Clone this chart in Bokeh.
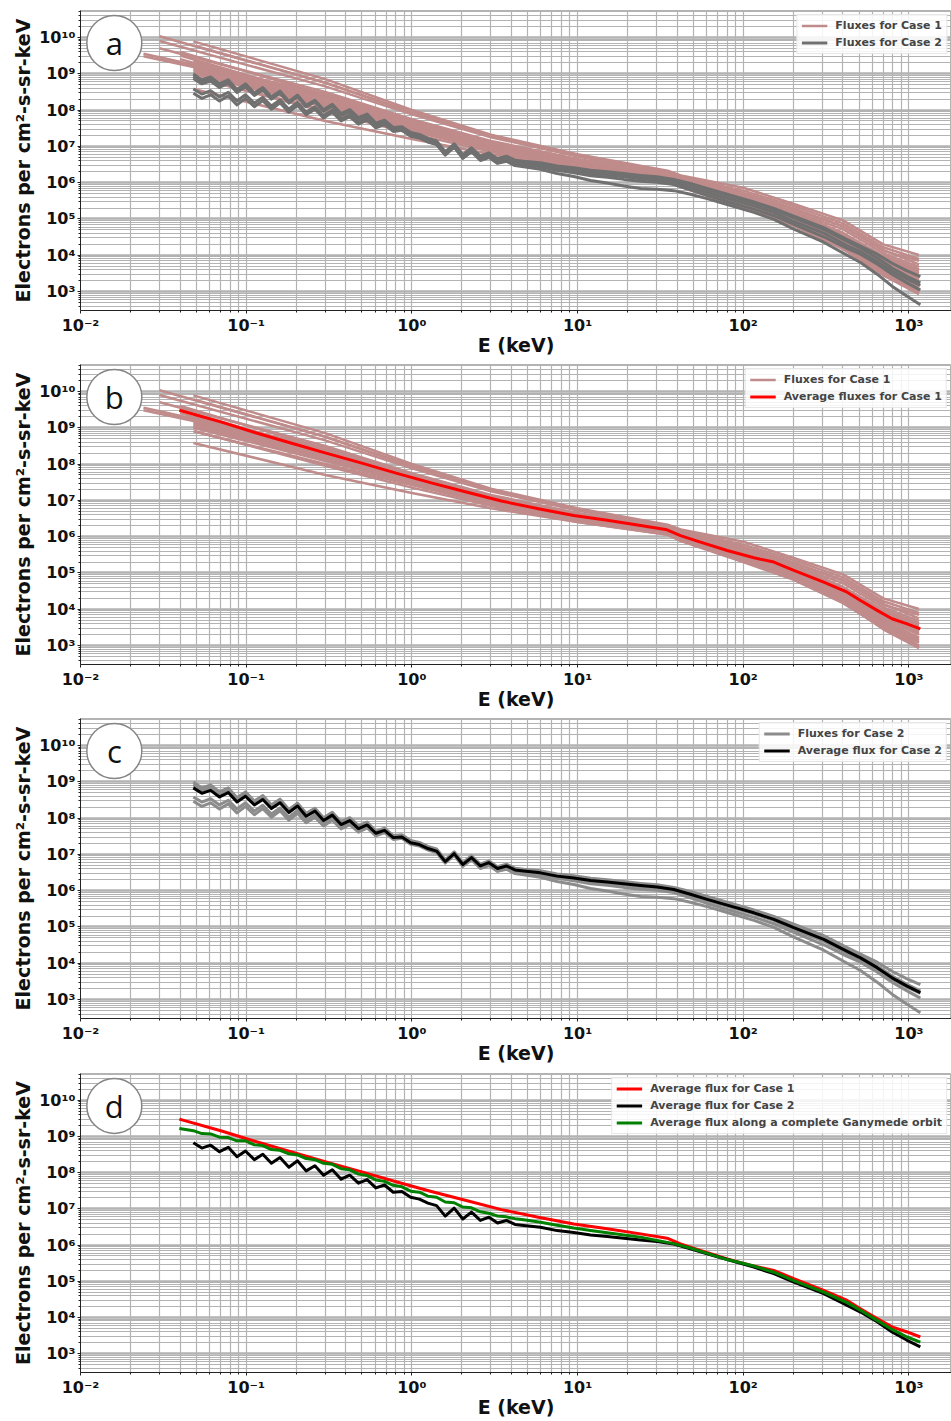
import numpy as np
from bokeh.plotting import figure
from bokeh.models import (Range1d, FixedTicker, CustomJSTickFormatter, Legend,
                          LegendItem, ColumnDataSource)
from bokeh.layouts import column
from bokeh.core.properties import value
from bokeh.embed import file_html
from bokeh.resources import INLINE

# ---------------------------------------------------------------- data (keV, log10 of flux)
# Case 2 energy channels (keV)
case2_energy = [0.048, 0.054, 0.061, 0.069, 0.078, 0.088, 0.099, 0.112, 0.126, 0.142,
                0.160, 0.181, 0.204, 0.230, 0.260, 0.293, 0.331, 0.374, 0.422, 0.476,
                0.537, 0.606, 0.684, 0.772, 0.871, 0.983, 1.11, 1.25, 1.41, 1.59,
                1.80, 2.03, 2.29, 2.59, 2.92, 3.29, 3.72, 4.19, 4.73, 5.97,
                7.53, 9.49, 12.0, 15.1, 19.0, 24.0, 30.2, 38.1, 48.0, 60.5,
                80.0, 116, 153, 202, 306, 424, 510, 643, 791, 975,
                1172]

case2_avg_log = [8.83, 8.68, 8.76, 8.58, 8.70, 8.44, 8.60, 8.36, 8.51, 8.26,
                 8.42, 8.15, 8.33, 8.05, 8.19, 7.93, 8.08, 7.82, 7.93, 7.71,
                 7.81, 7.58, 7.66, 7.46, 7.48, 7.32, 7.27, 7.16, 7.09, 6.80,
                 7.02, 6.72, 6.91, 6.68, 6.77, 6.61, 6.68, 6.57, 6.54, 6.49,
                 6.40, 6.35, 6.28, 6.24, 6.19, 6.14, 6.10, 6.03, 5.90, 5.76,
                 5.60, 5.39, 5.21, 4.98, 4.66, 4.33, 4.15, 3.88, 3.60, 3.37,
                 3.19]

case2_line_a = [8.93, 8.78, 8.86, 8.68, 8.80, 8.54, 8.70, 8.46, 8.61, 8.36,
                8.52, 8.23, 8.41, 8.13, 8.27, 8.01, 8.16, 7.90, 8.01, 7.79,
                7.89, 7.64, 7.72, 7.52, 7.54, 7.38, 7.33, 7.22, 7.15, 6.85,
                7.07, 6.77, 6.96, 6.73, 6.82, 6.66, 6.73, 6.62, 6.59, 6.55,
                6.46, 6.41, 6.34, 6.30, 6.25, 6.20, 6.16, 6.09, 5.98, 5.84,
                5.68, 5.47, 5.29, 5.08, 4.76, 4.43, 4.25, 4.03, 3.78, 3.57,
                3.41]
case2_line_b = [8.87, 8.72, 8.80, 8.62, 8.74, 8.48, 8.64, 8.40, 8.55, 8.30,
                8.46, 8.19, 8.37, 8.09, 8.23, 7.97, 8.12, 7.86, 7.97, 7.75,
                7.85, 7.60, 7.68, 7.48, 7.50, 7.34, 7.29, 7.18, 7.11, 6.82,
                7.04, 6.74, 6.93, 6.70, 6.79, 6.63, 6.70, 6.59, 6.56, 6.51,
                6.42, 6.37, 6.30, 6.26, 6.21, 6.16, 6.12, 6.05, 5.95, 5.81,
                5.65, 5.44, 5.26, 5.03, 4.71, 4.38, 4.20, 3.93, 3.65, 3.42,
                3.24]
case2_line_c = [8.58, 8.44, 8.53, 8.36, 8.49, 8.25, 8.42, 8.19, 8.35, 8.11,
                8.28, 8.02, 8.21, 7.94, 8.09, 7.84, 8.00, 7.75, 7.87, 7.65,
                7.76, 7.55, 7.63, 7.43, 7.45, 7.29, 7.24, 7.13, 7.06, 6.77,
                6.99, 6.68, 6.87, 6.64, 6.73, 6.57, 6.64, 6.53, 6.50, 6.44,
                6.34, 6.27, 6.19, 6.15, 6.09, 6.04, 6.01, 5.95, 5.80, 5.65,
                5.48, 5.27, 5.09, 4.85, 4.51, 4.19, 4.03, 3.76, 3.48, 3.24,
                3.04]
case2_line_d = [8.46, 8.32, 8.42, 8.25, 8.39, 8.14, 8.32, 8.09, 8.26, 8.02,
                8.20, 7.94, 8.13, 7.87, 8.02, 7.78, 7.94, 7.70, 7.82, 7.61,
                7.73, 7.51, 7.60, 7.41, 7.44, 7.28, 7.23, 7.12, 7.05, 6.76,
                6.98, 6.67, 6.85, 6.61, 6.69, 6.53, 6.59, 6.47, 6.44, 6.37,
                6.25, 6.17, 6.06, 5.99, 5.91, 5.84, 5.82, 5.78, 5.68, 5.56,
                5.40, 5.18, 4.99, 4.72, 4.36, 4.00, 3.80, 3.48, 3.15, 2.87,
                2.64]
case2_line_e = [8.99, 8.83, 8.91, 8.72, 8.83, 8.56, 8.72, 8.47, 8.61, 8.35,
                8.51, 8.23, 8.40, 8.11, 8.25, 7.98, 8.12, 7.86, 7.96, 7.74,
                7.84, 7.56, 7.64, 7.44, 7.46, 7.30, 7.25, 7.14, 7.07, 6.78,
                7.00, 6.70, 6.89, 6.66, 6.75, 6.59, 6.66, 6.55, 6.52, 6.46,
                6.37, 6.32, 6.25, 6.21, 6.16, 6.11, 6.07, 6.00, 5.87, 5.73,
                5.57, 5.36, 5.18, 4.93, 4.61, 4.27, 4.10, 3.83, 3.56, 3.34,
                3.17]
case2_lines = [case2_line_a, case2_line_b, case2_line_c, case2_line_d, case2_line_e]

# Case 1 average
case1_avg_energy = [0.0395, 0.0702, 0.114, 0.186, 0.303, 0.493, 0.803, 1.31, 2.13, 3.47,
                    5.8, 9.49, 15.1, 24.0, 34.7, 41.8, 55.2, 80.0, 116, 153,
                    202, 306, 424, 510, 643, 791, 975, 1172]
case1_avg_log = [9.48, 9.16, 8.86, 8.58, 8.30, 8.03, 7.75, 7.48, 7.23, 6.98,
                 6.77, 6.58, 6.45, 6.31, 6.19, 6.03, 5.85, 5.62, 5.42, 5.30,
                 5.07, 4.75, 4.47, 4.24, 3.97, 3.74, 3.60, 3.46]

# Case 1 individual spectra: start energy + common tail energies
case1_start_energy = [0.030, 0.030, 0.048, 0.048, 0.024, 0.024, 0.030, 0.040, 0.040, 0.048,
                      0.048, 0.048, 0.048, 0.048, 0.048, 0.048, 0.048, 0.048, 0.049, 0.040,
                      0.030]
case1_tail_energy = [0.3, 1.0, 3.0, 10, 35, 42, 100, 200, 400, 700, 1150]
case1_lines_log = [
    [10.03, 8.75, 7.95, 7.30, 6.75, 6.30, 6.15, 5.72, 5.30, 4.80, 4.15, 3.75],
    [9.90, 8.65, 7.88, 7.25, 6.72, 6.28, 6.12, 5.62, 5.18, 4.62, 3.98, 3.62],
    [9.89, 8.85, 8.00, 7.32, 6.78, 6.33, 6.20, 5.86, 5.42, 4.96, 4.30, 4.01],
    [9.78, 8.75, 7.92, 7.28, 6.74, 6.30, 6.16, 5.78, 5.36, 4.88, 4.22, 3.90],
    [9.55, 8.45, 7.72, 7.12, 6.62, 6.22, 6.06, 5.55, 5.12, 4.58, 3.95, 3.60],
    [9.48, 8.40, 7.68, 7.10, 6.60, 6.20, 6.05, 5.52, 5.10, 4.55, 3.90, 3.55],
    [9.45, 8.35, 7.65, 7.06, 6.58, 6.19, 6.03, 5.50, 5.06, 4.50, 3.85, 3.45],
    [9.50, 8.33, 7.62, 7.04, 6.56, 6.18, 6.02, 5.48, 5.05, 4.48, 3.82, 3.40],
    [9.40, 8.28, 7.60, 7.02, 6.55, 6.17, 6.00, 5.46, 5.02, 4.45, 3.80, 3.35],
    [9.35, 8.30, 7.63, 7.05, 6.58, 6.20, 6.04, 5.52, 5.08, 4.52, 3.88, 3.50],
    [9.25, 8.22, 7.57, 7.00, 6.53, 6.16, 5.99, 5.45, 5.00, 4.42, 3.75, 3.30],
    [9.20, 8.20, 7.55, 6.98, 6.52, 6.15, 5.98, 5.42, 4.97, 4.38, 3.70, 3.22],
    [9.15, 8.18, 7.55, 6.99, 6.50, 6.13, 5.97, 5.40, 4.95, 4.35, 3.65, 3.15],
    [9.10, 8.15, 7.52, 6.96, 6.48, 6.12, 5.95, 5.38, 4.92, 4.30, 3.60, 3.08],
    [9.05, 8.10, 7.48, 6.94, 6.47, 6.10, 5.94, 5.36, 4.90, 4.28, 3.55, 3.00],
    [9.00, 8.08, 7.47, 6.93, 6.46, 6.10, 5.93, 5.35, 4.88, 4.25, 3.50, 2.95],
    [8.90, 8.00, 7.42, 6.90, 6.44, 6.08, 5.90, 5.32, 4.85, 4.20, 3.45, 2.93],
    [8.58, 7.70, 7.20, 6.78, 6.40, 6.05, 5.88, 5.30, 4.82, 4.17, 3.48, 3.10],
    [8.90, 7.95, 7.35, 6.85, 6.40, 6.06, 5.90, 5.33, 4.86, 4.22, 3.55, 3.20],
    [9.60, 8.42, 7.70, 7.09, 6.60, 6.22, 6.07, 5.62, 5.20, 4.72, 4.05, 3.68],
    [9.70, 8.50, 7.75, 7.15, 6.65, 6.25, 6.10, 5.68, 5.25, 4.80, 4.12, 3.85],
]

# Average along a complete Ganymede orbit
orbit_energy = [0.0395] + case2_energy
orbit_avg_log = [9.22,
                 9.16, 9.08, 9.07, 8.98, 8.97, 8.88, 8.88, 8.77, 8.75, 8.64,
                 8.62, 8.52, 8.49, 8.39, 8.36, 8.26, 8.23, 8.11, 8.08, 7.96,
                 7.92, 7.80, 7.76, 7.65, 7.61, 7.49, 7.46, 7.35, 7.32, 7.19,
                 7.17, 7.05, 7.03, 6.92, 6.88, 6.80, 6.78, 6.73, 6.70, 6.63,
                 6.55, 6.47, 6.40, 6.34, 6.28, 6.22, 6.13, 6.04, 5.92, 5.77,
                 5.60, 5.42, 5.25, 5.02, 4.70, 4.41, 4.20, 3.92, 3.67, 3.46,
                 3.32]

panel_letters = ["a", "b", "c", "d"]
x_tick_exponents = [-2, -1, 0, 1, 2, 3]
y_tick_exponents = [2, 3, 4, 5, 6, 7, 8, 9, 10]

# ---------------------------------------------------------------- styling
PINK = "#c08b8b"
GREY_A = "#707070"
GREY_C = "#8c8c8c"
RED = "#ff0000"
GREEN = "#008000"
BLACK = "#000000"
GRID = "#b3b3b3"
FONT = "DejaVu Sans"

X_RANGE = (1e-2, 10 ** 3.257)
Y_RANGE = (10 ** 2.48, 10 ** 10.74)
LETTER_POS = (0.0160, 7.0e9)
# (height, top border) for each panel
PANEL_BOX = [(358, 10), (354, 6), (354, 6), (354, 7)]

def flux(logs):
    return [10.0 ** v for v in logs]

def ticker(exps):
    major = [10.0 ** k for k in exps]
    minor = [m * 10.0 ** k for k in exps for m in range(2, 10)]
    return FixedTicker(ticks=major, minor_ticks=minor)

FMT_CODE = """
const sup = {'-':'\u207b','0':'\u2070','1':'\u00b9','2':'\u00b2','3':'\u00b3','4':'\u2074',
             '5':'\u2075','6':'\u2076','7':'\u2077','8':'\u2078','9':'\u2079'};
const e = Math.round(Math.log10(tick));
return '10' + String(e).split('').map(c => sup[c]).join('');
"""

def make_panel(idx):
    h, top = PANEL_BOX[idx]
    p = figure(width=951, height=h, x_axis_type="log", y_axis_type="log",
               x_range=Range1d(*X_RANGE), y_range=Range1d(*Y_RANGE),
               output_backend="svg", toolbar_location=None,
               min_border_left=80, min_border_right=0, min_border_top=top,
               min_border_bottom=10)
    xt = ticker(x_tick_exponents)
    yt = ticker(y_tick_exponents)
    p.xaxis.ticker = xt
    p.yaxis.ticker = yt
    p.xgrid.ticker = xt
    p.ygrid.ticker = yt
    for ax in (p.xaxis, p.yaxis):
        ax.formatter = CustomJSTickFormatter(code=FMT_CODE)
        ax.major_label_text_font = FONT
        ax.major_label_text_font_style = "bold"
        ax.major_label_text_font_size = "16px"
        ax.major_label_text_color = "#111111"
        ax.axis_label_text_font = FONT
        ax.axis_label_text_font_style = "bold"
        ax.axis_label_text_font_size = "19px"
        ax.axis_label_text_color = "#111111"
        ax.major_tick_in = 0
        ax.major_tick_out = 3
        ax.minor_tick_in = 0
        ax.minor_tick_out = 2
        ax.axis_line_color = "#222222"
        ax.major_tick_line_color = "#222222"
        ax.minor_tick_line_color = "#222222"
        ax.major_label_standoff = 2
    p.xaxis.axis_label_standoff = -4
    p.yaxis.axis_label_standoff = 2
    p.xaxis.axis_label = "E (keV)"
    p.yaxis.axis_label = "Electrons per cm\u00b2-s-sr-keV"
    p.xgrid.grid_line_color = GRID
    p.xgrid.grid_line_width = 1.2
    p.xgrid.minor_grid_line_color = GRID
    p.xgrid.minor_grid_line_width = 1.2
    p.ygrid.grid_line_color = GRID
    p.ygrid.grid_line_width = 2.5
    p.ygrid.minor_grid_line_color = GRID
    p.ygrid.minor_grid_line_width = 1.0
    p.outline_line_color = GRID
    p.background_fill_color = "white"
    return p

def add_letter(p, letter):
    p.scatter(x=[LETTER_POS[0]], y=[LETTER_POS[1]], marker="circle", size=55,
              fill_color="white", line_color="#858585", line_width=1.5)
    p.text(x=[LETTER_POS[0]], y=[LETTER_POS[1]], text=[letter],
           text_align="center", text_baseline="middle",
           text_font=value("Open Sans"), text_font_size="31px", text_color="#111111")

def add_legend(p, items):
    lg = Legend(items=items, location="top_right")
    lg.label_text_font = FONT
    lg.label_text_font_style = "bold"
    lg.label_text_font_size = "11px"
    lg.glyph_width = 26
    lg.glyph_height = 13
    lg.label_height = 13
    lg.spacing = 4
    lg.padding = 4
    lg.margin = 4
    lg.label_standoff = 8
    lg.border_line_color = "#d0d0d0"
    lg.background_fill_alpha = 0.85
    p.add_layout(lg)

def case1_multiline(p):
    xs = [[s] + case1_tail_energy for s in case1_start_energy]
    ys = [flux(row) for row in case1_lines_log]
    src = ColumnDataSource(dict(xs=xs, ys=ys))
    return p.multi_line(xs="xs", ys="ys", source=src, line_color=PINK,
                        line_width=2.5, line_join="round")

def case2_multiline(p, color):
    xs = [case2_energy for _ in case2_lines]
    ys = [flux(row) for row in case2_lines]
    src = ColumnDataSource(dict(xs=xs, ys=ys))
    return p.multi_line(xs="xs", ys="ys", source=src, line_color=color,
                        line_width=3, line_join="round")

# ---------------------------------------------------------------- panel a
pa = make_panel(0)
ra1 = case1_multiline(pa)
ra2 = case2_multiline(pa, GREY_A)
add_letter(pa, panel_letters[0])
add_legend(pa, [LegendItem(label="Fluxes for Case 1", renderers=[ra1]),
                LegendItem(label="Fluxes for Case 2", renderers=[ra2])])

# ---------------------------------------------------------------- panel b
pb = make_panel(1)
rb1 = case1_multiline(pb)
rb2 = pb.line(case1_avg_energy, flux(case1_avg_log), line_color=RED, line_width=3,
              line_join="round")
add_letter(pb, panel_letters[1])
add_legend(pb, [LegendItem(label="Fluxes for Case 1", renderers=[rb1]),
                LegendItem(label="Average fluxes for Case 1", renderers=[rb2])])

# ---------------------------------------------------------------- panel c
pc = make_panel(2)
rc1 = case2_multiline(pc, GREY_C)
rc2 = pc.line(case2_energy, flux(case2_avg_log), line_color=BLACK, line_width=3,
              line_join="round")
add_letter(pc, panel_letters[2])
add_legend(pc, [LegendItem(label="Fluxes for Case 2", renderers=[rc1]),
                LegendItem(label="Average flux for Case 2", renderers=[rc2])])

# ---------------------------------------------------------------- panel d
pd_ = make_panel(3)
rd1 = pd_.line(case1_avg_energy, flux(case1_avg_log), line_color=RED, line_width=3,
               line_join="round")
rd2 = pd_.line(case2_energy, flux(case2_avg_log), line_color=BLACK, line_width=3,
               line_join="round")
rd3 = pd_.line(orbit_energy, flux(orbit_avg_log), line_color=GREEN, line_width=3,
               line_join="round")
add_letter(pd_, panel_letters[3])
add_legend(pd_, [LegendItem(label="Average flux for Case 1", renderers=[rd1]),
                 LegendItem(label="Average flux for Case 2", renderers=[rd2]),
                 LegendItem(label="Average flux along a complete Ganymede orbit",
                            renderers=[rd3])])

layout = column(pa, pb, pc, pd_, spacing=0)
open("out.html", "w").write(file_html(layout, INLINE))
